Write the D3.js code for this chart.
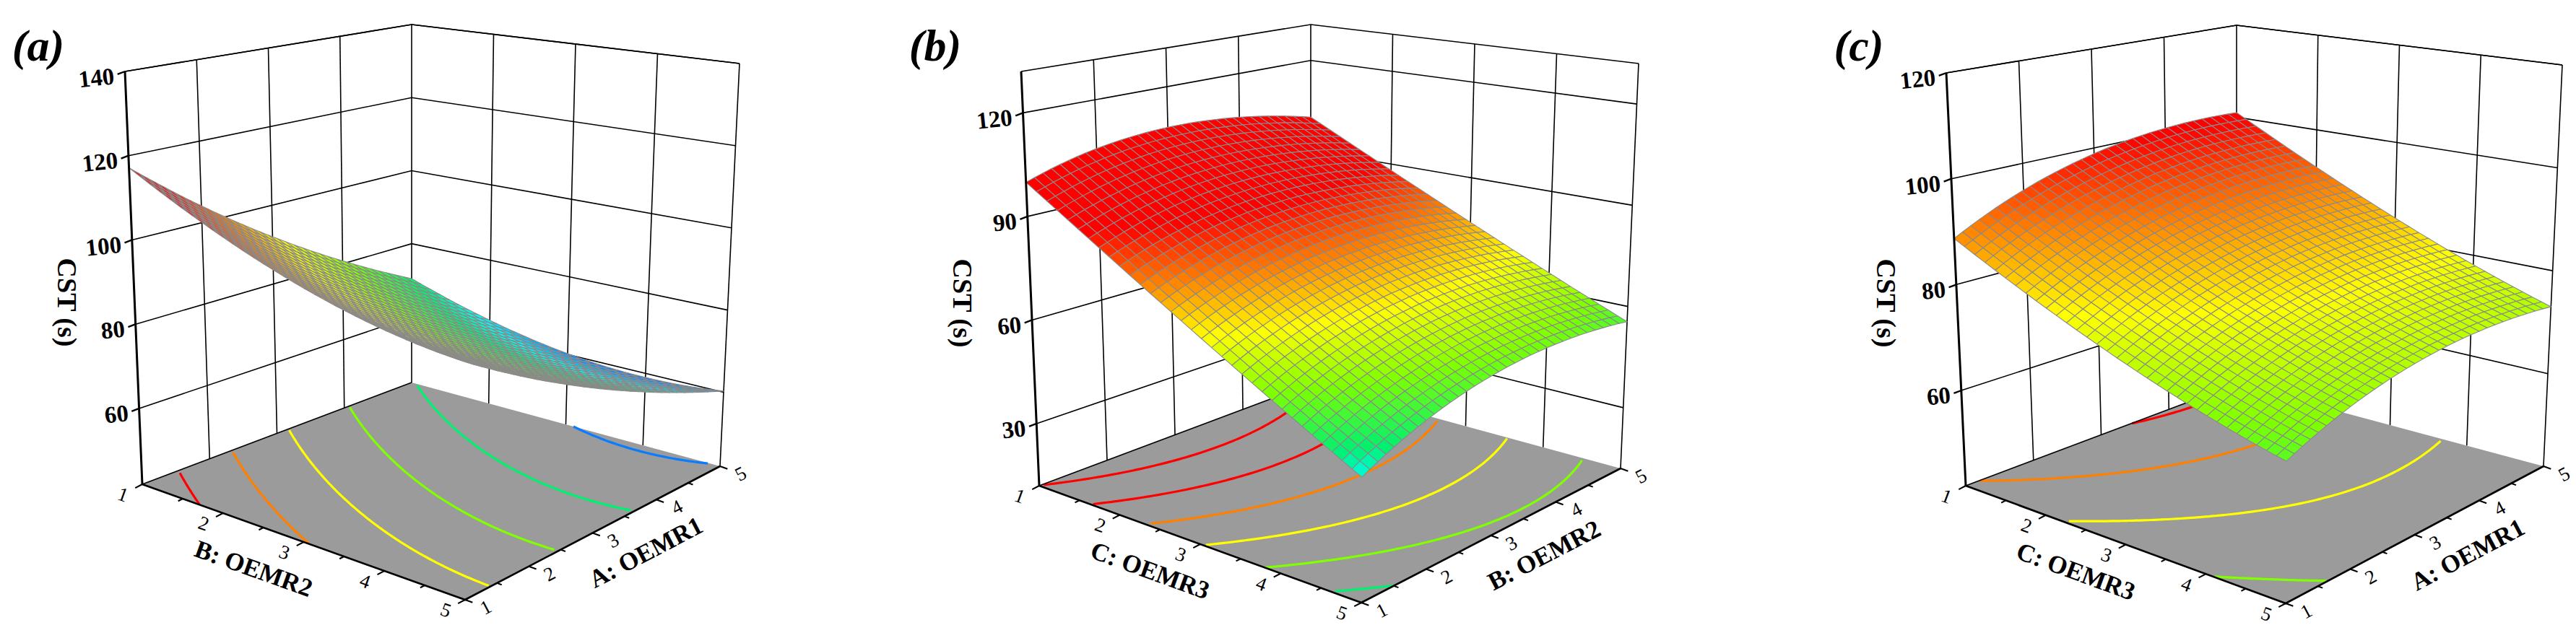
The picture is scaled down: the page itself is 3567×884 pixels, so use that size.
<!DOCTYPE html>
<html>
<head>
<meta charset="utf-8">
<script src="https://cdn.jsdelivr.net/npm/d3@7"></script>
<style>
  body { margin: 0; background: #fff; }
  text { font-family: "Liberation Serif", "Times New Roman", serif; fill: #000; }
</style>
</head>
<body>
<div id="chart"></div>
<script>
// ---- data ----
// factor levels (coded 1..5) on both floor axes
var levels = [1, 2, 3, 4, 5];

// CST (s) at the 5x5 design points; rows = front-right axis level, cols = left-front axis level
// (a) rows A: OEMR1, cols B: OEMR2
var cstA = [
  [120, 107, 100, 96, 94],
  [103, 93, 88, 85, 84.5],
  [92, 83, 79, 77, 76],
  [81, 74, 70, 68, 67],
  [70, 64, 61, 59, 58.5]
];
// (b) rows B: OEMR2, cols C: OEMR3
var cstB = [
  [100, 84, 71, 58, 46],
  [105, 90, 77, 64, 52],
  [108, 94, 81, 69, 58],
  [106, 92, 79, 68, 58],
  [101, 88, 76, 65, 56]
];
// (c) rows A: OEMR1, cols C: OEMR3
var cstC = [
  [88, 80, 75, 71, 68],
  [96, 88, 80, 75, 71],
  [99, 92, 83, 78, 73],
  [101, 94, 84, 79, 74],
  [99, 93, 85, 78, 74]
];

var zTicksA = [60, 80, 100, 120, 140];
var zTicksB = [30, 60, 90, 120];
var zTicksC = [60, 80, 100, 120];

var contourLevelsA = [60, 70, 80, 90, 100, 110];
var contourLevelsB = [50, 60, 70, 80, 90, 100];
var contourLevelsC = [70, 80, 90, 100];

var panelLabels = ["(a)", "(b)", "(c)"];
var xNames = ["A: OEMR1", "B: OEMR2", "A: OEMR1"];   // front-right edge
var yNames = ["B: OEMR2", "C: OEMR3", "C: OEMR3"];   // left-front edge
var zName = "CST (s)";

// ---- layout (screen corners of each box) ----
var palette = ["#0a7dff", "#00ffff", "#00f070", "#80ff00", "#ffff00", "#ff8000", "#ff0000"];
var panels = [
  {
    grid: cstA, zTicks: zTicksA, levels: contourLevelsA, zDomain: [42, 140],
    stops: [60, 65, 70, 80, 90, 100, 110],
    L: [197, 671], K: [570, 530], R: [997, 646], F: [644, 831],
    Lt: [173, 99], Kt: [570, 34], Rt: [1024, 88], Ft: [647, 211],
    label: [53, 62], zLab: [93, 419]
  },
  {
    grid: cstB, zTicks: zTicksB, levels: contourLevelsB, zDomain: [12, 132],
    stops: [40, 45, 50, 60, 70, 80, 90],
    L: [1439, 673], K: [1815, 532], R: [2244, 649], F: [1885, 835],
    Lt: [1414, 99], Kt: [1815, 34], Rt: [2269, 88], Ft: [1888, 215],
    label: [1295, 62], zLab: [1333, 420]
  },
  {
    grid: cstC, zTicks: zTicksC, levels: contourLevelsC, zDomain: [42, 120],
    stops: [50, 55, 60, 70, 80, 90, 100],
    L: [2722, 673], K: [3097, 532], R: [3522, 646], F: [3165, 836],
    Lt: [2695, 101], Kt: [3097, 35], Rt: [3548, 90], Ft: [3168, 216],
    label: [2574, 62], zLab: [2612, 420]
  }
];

var W = 3567, H = 884;
var svg = d3.select("#chart").append("svg")
  .attr("width", W).attr("height", H);

// least squares quadratic response surface through the design points
function fitQuadratic(grid) {
  var A = [], b = [];
  for (var i = 0; i < 6; i++) { A.push([0, 0, 0, 0, 0, 0]); b.push(0); }
  grid.forEach(function (row, i) {
    row.forEach(function (z, j) {
      var x = levels[i], y = levels[j];
      var f = [1, x, y, x * x, y * y, x * y];
      for (var r = 0; r < 6; r++) {
        b[r] += f[r] * z;
        for (var c = 0; c < 6; c++) A[r][c] += f[r] * f[c];
      }
    });
  });
  // gaussian elimination
  for (var k = 0; k < 6; k++) {
    var p = k;
    for (var r = k + 1; r < 6; r++) if (Math.abs(A[r][k]) > Math.abs(A[p][k])) p = r;
    var t = A[k]; A[k] = A[p]; A[p] = t; var tb = b[k]; b[k] = b[p]; b[p] = tb;
    for (var r = k + 1; r < 6; r++) {
      var m = A[r][k] / A[k][k];
      for (var c = k; c < 6; c++) A[r][c] -= m * A[k][c];
      b[r] -= m * b[k];
    }
  }
  var co = [0, 0, 0, 0, 0, 0];
  for (var k = 5; k >= 0; k--) {
    var s = b[k];
    for (var c = k + 1; c < 6; c++) s -= A[k][c] * co[c];
    co[k] = s / A[k][k];
  }
  return function (x, y) {
    return co[0] + co[1] * x + co[2] * y + co[3] * x * x + co[4] * y * y + co[5] * x * y;
  };
}

function lerp(a, b, t) { return [a[0] + (b[0] - a[0]) * t, a[1] + (b[1] - a[1]) * t]; }
function unit(v) { var l = Math.hypot(v[0], v[1]); return [v[0] / l, v[1] / l]; }
function angle(a, b) { return Math.atan2(b[1] - a[1], b[0] - a[0]) * 180 / Math.PI; }

var line = d3.line();

panels.forEach(function (P, pi) {
  var g = svg.append("g");
  var xScale = d3.scaleLinear().domain([1, 5]).range([0, 1]);   // front-right var -> p
  var yScale = d3.scaleLinear().domain([1, 5]).range([0, 1]);   // left-front var -> q
  var zScale = d3.scaleLinear().domain(P.zDomain).range([0, 1]);
  var color = d3.scaleLinear().domain(P.stops).range(palette).clamp(true);
  var f = fitQuadratic(P.grid);

  function bil(c00, c10, c01, c11, p, q) {
    return [
      c00[0] * (1 - p) * (1 - q) + c10[0] * p * (1 - q) + c01[0] * (1 - p) * q + c11[0] * p * q,
      c00[1] * (1 - p) * (1 - q) + c10[1] * p * (1 - q) + c01[1] * (1 - p) * q + c11[1] * p * q
    ];
  }
  // p: 0 at left/front side -> 1 at back/right ; q: 0 at left/back -> 1 at front/right
  function proj(p, q, w) {
    var lo = bil(P.L, P.K, P.F, P.R, p, q);
    var hi = bil(P.Lt, P.Kt, P.Ft, P.Rt, p, q);
    return lerp(lo, hi, w);
  }

  // walls
  g.append("path").attr("d", line([P.L, P.K, P.R, P.Rt, P.Kt, P.Lt]) + "Z").attr("fill", "#fff");
  var wall = g.append("g").attr("stroke", "#000").attr("stroke-width", 1.6).attr("fill", "none");
  P.zTicks.forEach(function (t) {
    var w = zScale(t);
    wall.append("path").attr("d", line([proj(0, 0, w), proj(1, 0, w), proj(1, 1, w)]));
  });
  levels.slice(1, -1).forEach(function (v) {
    wall.append("path").attr("d", line([proj(xScale(v), 0, 0), proj(xScale(v), 0, 1)]));
    wall.append("path").attr("d", line([proj(1, yScale(v), 0), proj(1, yScale(v), 1)]));
  });
  wall.append("path").attr("d", line([P.Lt, P.Kt, P.Rt]));
  wall.append("path").attr("d", line([P.K, P.Kt]));
  wall.append("path").attr("d", line([P.R, P.Rt]));

  // floor
  g.append("path").attr("d", line([P.L, P.K, P.R, P.F]) + "Z").attr("fill", "#9b9b9b");

  // floor contours
  var n = 81, vals = new Array(n * n);
  for (var j = 0; j < n; j++) for (var i = 0; i < n; i++) {
    vals[j * n + i] = f(xScale.invert(i / (n - 1)), yScale.invert(j / (n - 1)));
  }
  var cs = d3.contours().size([n, n]).thresholds(P.levels)(vals);
  cs.forEach(function (c) {
    var segs = [];
    c.coordinates.forEach(function (poly) {
      poly.forEach(function (ring) {
        var cur = [];
        ring.forEach(function (pt) {
          var onEdge = pt[0] <= 0.5 || pt[0] >= n - 0.5 || pt[1] <= 0.5 || pt[1] >= n - 0.5;
          if (onEdge) { if (cur.length > 1) segs.push(cur); cur = []; return; }
          var p = Math.max(0, Math.min(1, (pt[0] - 0.5) / (n - 1)));
          var q = Math.max(0, Math.min(1, (pt[1] - 0.5) / (n - 1)));
          cur.push(proj(p, q, 0));
        });
        if (cur.length > 1) segs.push(cur);
      });
    });
    segs.forEach(function (s) {
      g.append("path").attr("d", line(s)).attr("fill", "none")
        .attr("stroke", color(c.value)).attr("stroke-width", 3.2);
    });
  });

  // floor edges + axes
  var ax = g.append("g").attr("stroke", "#000").attr("fill", "none");
  ax.append("path").attr("d", line([P.L, P.K])).attr("stroke-width", 1.6);
  ax.append("path").attr("d", line([P.L, P.F, P.R])).attr("stroke-width", 2.6);

  var dirX = unit([P.F[0] - P.R[0], P.F[1] - P.R[1]]);   // ticks on left-front edge
  var dirY = unit([P.F[0] - P.L[0], P.F[1] - P.L[1]]);   // ticks on front-right edge
  var angY = angle(P.L, P.F), angX = angle(P.F, P.R);
  d3.range(1, 5.01, 0.5).forEach(function (v) {
    var major = v % 1 === 0, len = major ? 11 : 7;
    var a = proj(0, yScale(v), 0);
    ax.append("path").attr("stroke-width", 2)
      .attr("d", line([a, [a[0] + dirX[0] * len, a[1] + dirX[1] * len]]));
    var b = proj(xScale(v), 1, 0);
    ax.append("path").attr("stroke-width", 2)
      .attr("d", line([b, [b[0] + dirY[0] * len, b[1] + dirY[1] * len]]));
    if (major) {
      g.append("text").attr("font-size", 27).attr("text-anchor", "middle").attr("dy", "0.35em")
        .attr("transform", "translate(" + (a[0] + dirX[0] * 30) + "," + (a[1] + dirX[1] * 30) + ") rotate(" + angY + ")")
        .text(v);
      g.append("text").attr("font-size", 27).attr("text-anchor", "middle").attr("dy", "0.35em")
        .attr("transform", "translate(" + (b[0] + dirY[0] * 30) + "," + (b[1] + dirY[1] * 30) + ") rotate(" + angX + ")")
        .text(v);
    }
  });
  var my = proj(0, 0.5, 0), mx = proj(0.5, 1, 0);
  g.append("text").attr("font-size", 35).attr("font-weight", "bold").attr("text-anchor", "middle").attr("dy", "0.35em")
    .attr("transform", "translate(" + (my[0] + dirX[0] * 78) + "," + (my[1] + dirX[1] * 78) + ") rotate(" + angY + ")")
    .text(yNames[pi]);
  g.append("text").attr("font-size", 35).attr("font-weight", "bold").attr("text-anchor", "middle").attr("dy", "0.35em")
    .attr("transform", "translate(" + (mx[0] + dirY[0] * 78) + "," + (mx[1] + dirY[1] * 78) + ") rotate(" + angX + ")")
    .text(xNames[pi]);

  // surface mesh, painted back to front
  var m = 33, quads = [];
  for (var i = 0; i < m; i++) for (var j = 0; j < m; j++) {
    var p0 = i / m, p1 = (i + 1) / m, q0 = j / m, q1 = (j + 1) / m;
    var corners = [[p0, q0], [p1, q0], [p1, q1], [p0, q1]];
    var zc = f(xScale.invert((p0 + p1) / 2), yScale.invert((q0 + q1) / 2));
    quads.push({
      pts: corners.map(function (c) {
        return proj(c[0], c[1], zScale(f(xScale.invert(c[0]), yScale.invert(c[1]))));
      }),
      z: zc,
      depth: (p0 + p1) / 2 + 1 - (q0 + q1) / 2
    });
  }
  quads.sort(function (a, b) { return b.depth - a.depth; });
  g.append("g").selectAll("path").data(quads).enter().append("path")
    .attr("d", function (d) { return line(d.pts) + "Z"; })
    .attr("fill", function (d) { return color(d.z); })
    .attr("stroke", "#8a8a8a").attr("stroke-width", 1.1).attr("stroke-linejoin", "round");

  // vertical CST axis
  g.append("path").attr("d", line([P.L, P.Lt])).attr("stroke", "#000").attr("stroke-width", 3);
  var dz = unit([P.L[0] - P.K[0], P.L[1] - P.K[1]]);
  P.zTicks.forEach(function (t) {
    var a = proj(0, 0, zScale(t));
    g.append("path").attr("d", line([a, [a[0] + dz[0] * 11, a[1] + dz[1] * 11]]))
      .attr("stroke", "#000").attr("stroke-width", 2.4);
    g.append("text").attr("font-size", 33).attr("font-weight", "bold").attr("text-anchor", "end").attr("dy", "0.35em")
      .attr("transform", "translate(" + (a[0] + dz[0] * 16) + "," + (a[1] + dz[1] * 16) + ") rotate(-6)")
      .text(t);
  });
  g.append("text").attr("font-size", 38).attr("font-weight", "bold").attr("text-anchor", "middle").attr("dy", "0.35em")
    .attr("transform", "translate(" + P.zLab[0] + "," + P.zLab[1] + ") rotate(90)")
    .text(zName);

  g.append("text").attr("x", P.label[0]).attr("y", P.label[1]).attr("dy", "0.35em")
    .attr("text-anchor", "middle").attr("font-size", 62).attr("font-weight", "bold").attr("font-style", "italic")
    .text(panelLabels[pi]);
});
</script>
</body>
</html>
